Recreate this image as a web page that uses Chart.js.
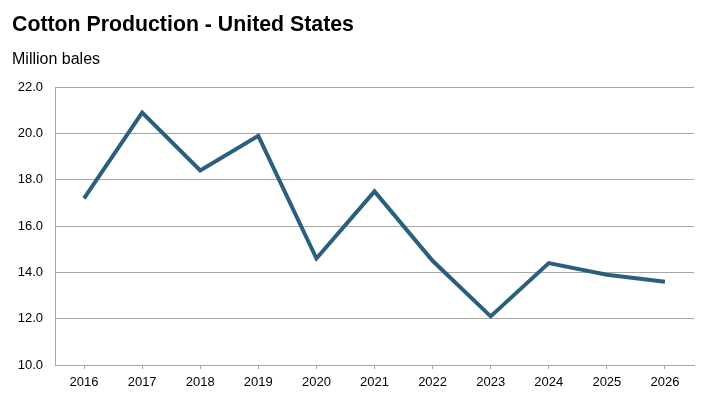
<!DOCTYPE html>
<html>
<head>
<meta charset="utf-8">
<script src="https://cdn.jsdelivr.net/npm/chart.js@4"></script>
<style>
  html, body { margin: 0; padding: 0; background: #fff; }
  #wrap { width: 713px; height: 417px; }
</style>
</head>
<body>
<div id="wrap"><canvas id="chart" width="713" height="417"></canvas></div>
<script>
  // Data
  const years = ["2016", "2017", "2018", "2019", "2020", "2021", "2022", "2023", "2024", "2025", "2026"];
  const production = [17.2, 20.9, 18.4, 19.9, 14.6, 17.5, 14.5, 12.1, 14.4, 13.9, 13.6];
  const yMin = 10;
  const yMax = 22;
  const yStep = 2;

  const font = "'Liberation Sans', Arial, sans-serif";
  const gridGray = "#a6a6a6";

  new Chart(document.getElementById("chart"), {
    type: "line",
    data: {
      labels: years,
      datasets: [{
        label: "Cotton Production",
        data: production,
        borderColor: "#2a5f80",
        borderWidth: 4,
        pointRadius: 0,
        tension: 0,
        fill: false
      }]
    },
    options: {
      responsive: false,
      animation: false,
      layout: { padding: { left: 12, right: 19, top: 0, bottom: 0 } },
      plugins: {
        legend: { display: false },
        tooltip: { enabled: false },
        title: {
          display: true,
          text: "Cotton Production - United States",
          align: "start",
          color: "#000",
          font: { family: font, size: 21.3, weight: "bold" },
          padding: { top: 12, bottom: 0 }
        },
        subtitle: {
          display: true,
          text: "Million bales",
          align: "start",
          color: "#000",
          font: { family: font, size: 16 },
          padding: { top: 12, bottom: 18.4 }
        }
      },
      scales: {
        x: {
          offset: true,
          afterFit: (scale) => { scale.height = 52; },
          grid: { drawOnChartArea: false, drawTicks: true, tickLength: 4, color: gridGray },
          border: { color: gridGray },
          ticks: { color: "#000", font: { family: font, size: 13 }, padding: 6, maxRotation: 0 }
        },
        y: {
          min: yMin,
          max: yMax,
          afterFit: (scale) => { scale.width = 43; },
          grid: { color: gridGray, drawTicks: false },
          border: { color: gridGray },
          ticks: {
            stepSize: yStep,
            padding: 12,
            color: "#000",
            font: { family: font, size: 13 },
            callback: (v) => v.toFixed(1)
          }
        }
      }
    }
  });
</script>
</body>
</html>
